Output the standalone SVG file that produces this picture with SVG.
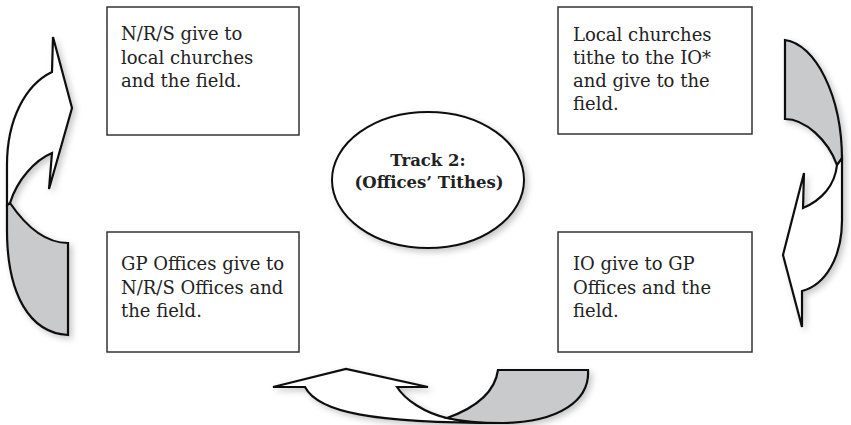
<svg xmlns="http://www.w3.org/2000/svg" width="851" height="425" viewBox="0 0 851 425">
<style>
.box{fill:#fff;stroke:#333;stroke-width:1.5}
.t{font-family:"DejaVu Serif","Liberation Serif",serif;font-size:18px;fill:#222}
.tb{font-family:"DejaVu Serif","Liberation Serif",serif;font-size:16.5px;font-weight:bold;fill:#222;text-anchor:middle}
.aw{fill:#fff;stroke:#111;stroke-width:2.2;stroke-linejoin:miter}
.ag{fill:#c9cacc;stroke:#111;stroke-width:2.2;stroke-linejoin:miter}
</style>
<defs>
<filter id="sh" x="-30%" y="-30%" width="160%" height="160%">
<feDropShadow dx="3" dy="3" stdDeviation="3" flood-color="#000" flood-opacity="0.22"/>
</filter>
</defs>
<rect width="851" height="425" fill="#fff"/>
<g id="connectors">
<g id="arrow-left" filter="url(#sh)">
<path class="ag" d="M10,203 C25,225 45,243 68,243 L68,335 C30,333 7,295 7,230 L7,205 Z"/>
<path class="aw" d="M7,205 L7,165 C7,120 25,85 52,72 L53,37 L72,108 L49,189 L52,153 C35,160 17,180 10,203 Z"/>
</g>
<g id="arrow-right" filter="url(#sh)">
<path class="ag" d="M785,40 L785,119 C805,119 828,140 837,165 L842,160 C842,95 815,44 785,40 Z"/>
<path class="aw" d="M842,158 L842,220 C842,258 825,285 802,291 L802,327 L783,255 L804,173 L803,208 C822,200 835,185 837,165 Z"/>
</g>
<g id="arrow-bottom" filter="url(#sh)">
<path class="aw" d="M305,387 C318,412 370,423 503,423 C480,423 460,421 447,418 C425,413 405,400 397,387 L428,387 L346,369 L273,387 Z"/>
<path class="ag" d="M498,370 L588,370 C590,400 560,422 503,423 C480,423 460,421 447,418 C475,408 495,392 498,370 Z"/>
</g>
</g>
<g id="node-nrs">
<rect class="box" x="107" y="7" width="192" height="128"/>
<text class="t" x="121" y="40">N/R/S give to</text>
<text class="t" x="121" y="64">local churches</text>
<text class="t" x="121" y="87">and the field.</text>
</g>
<g id="node-local">
<rect class="box" x="558" y="7" width="194" height="127"/>
<text class="t" x="573" y="41">Local churches</text>
<text class="t" x="573" y="64">tithe to the IO*</text>
<text class="t" x="573" y="87">and give to the</text>
<text class="t" x="573" y="110">field.</text>
</g>
<g id="node-gp">
<rect class="box" x="107" y="232" width="192" height="120"/>
<text class="t" x="121" y="270">GP Offices give to</text>
<text class="t" x="121" y="294">N/R/S Offices and</text>
<text class="t" x="121" y="317">the field.</text>
</g>
<g id="node-io">
<rect class="box" x="558" y="232" width="194" height="120"/>
<text class="t" x="573" y="270">IO give to GP</text>
<text class="t" x="573" y="294">Offices and the</text>
<text class="t" x="573" y="317">field.</text>
</g>
<g id="node-track">
<ellipse cx="428" cy="180" rx="96" ry="68" fill="#fff" stroke="#111" stroke-width="2" filter="url(#sh)"/>
<text class="tb" x="428" y="166">Track 2:</text>
<text class="tb" x="429" y="188">(Offices’ Tithes)</text>
</g>
</svg>
